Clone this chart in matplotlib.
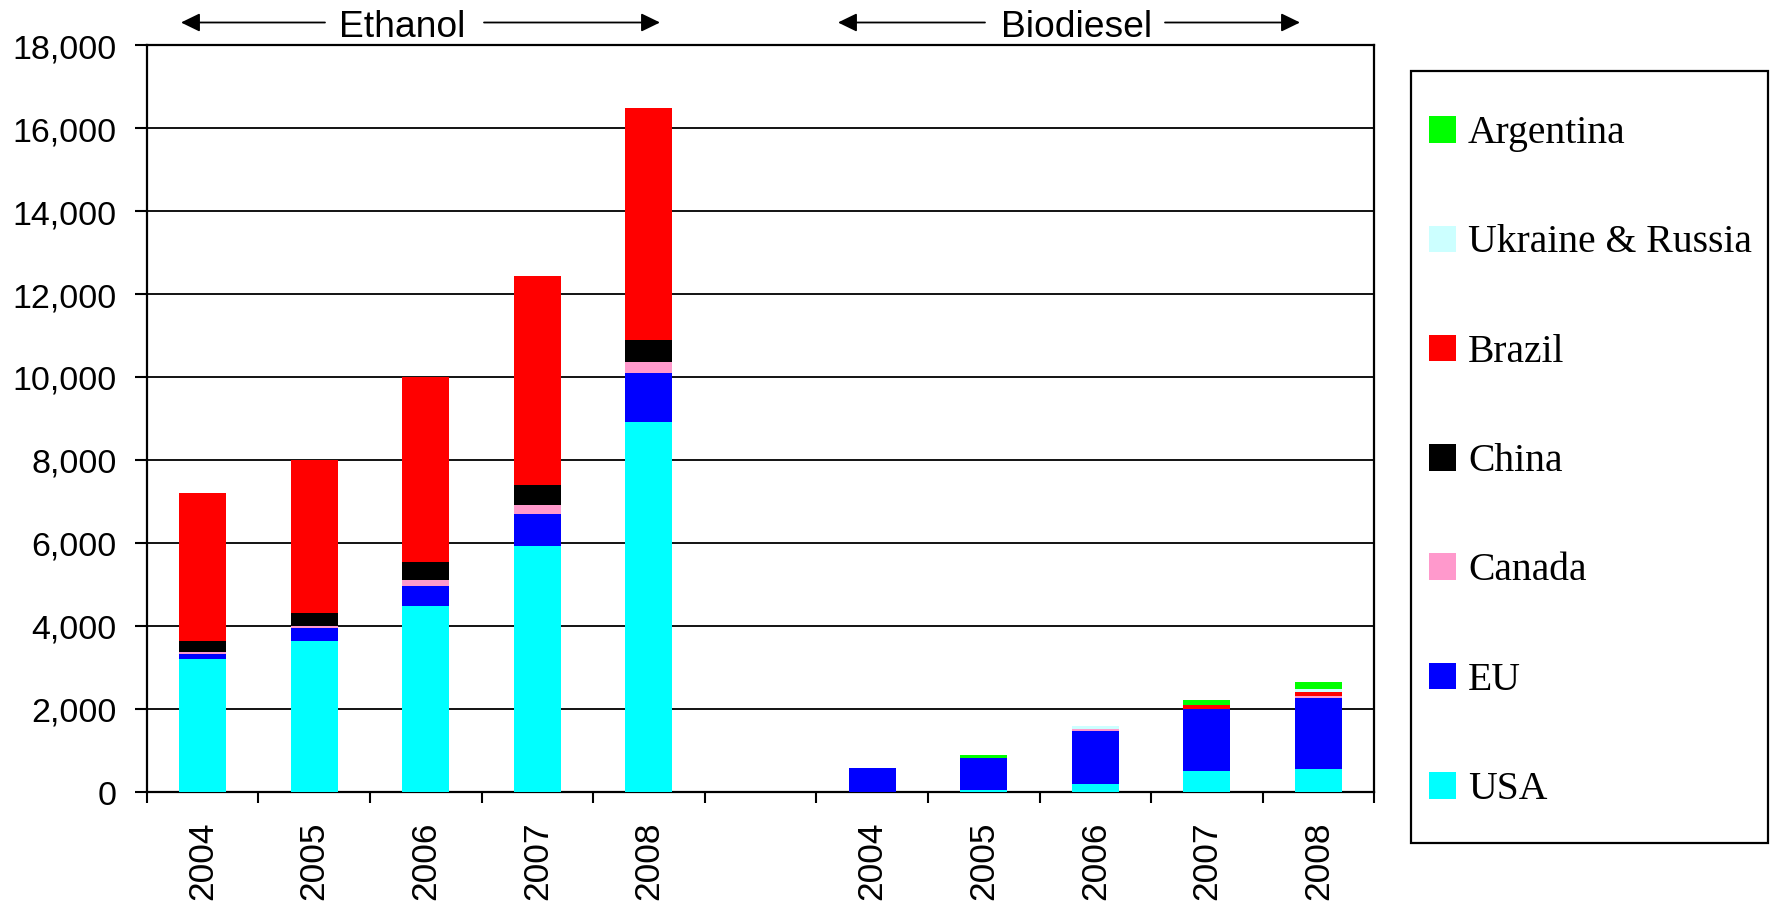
import matplotlib
matplotlib.use("Agg")
import matplotlib.pyplot as plt
from matplotlib.patches import Rectangle
from matplotlib.ticker import FuncFormatter, FixedLocator
import numpy as np

# Production by country (stacked bottom to top)
years = ["2004", "2005", "2006", "2007", "2008"]
countries = ["USA", "EU", "Canada", "China", "Brazil", "Ukraine & Russia", "Argentina"]
colors = ["#00FFFF", "#0000FF", "#FF99CC", "#000000", "#FF0000", "#CCFFFF", "#00FF00"]

ethanol_usa = [3200, 3640, 4480, 5930, 8920]
ethanol_eu = [120, 315, 480, 765, 1180]
ethanol_canada = [55, 50, 145, 225, 265]
ethanol_china = [260, 310, 435, 480, 530]
ethanol_brazil = [3570, 3680, 4460, 5040, 5580]
ethanol_ukraine_russia = [0, 0, 0, 0, 0]
ethanol_argentina = [0, 0, 0, 0, 0]

biodiesel_usa = [0, 40, 185, 500, 550]
biodiesel_eu = [570, 775, 1280, 1500, 1710]
biodiesel_canada = [0, 0, 50, 0, 50]
biodiesel_china = [0, 0, 0, 0, 0]
biodiesel_brazil = [0, 0, 0, 97, 97]
biodiesel_ukraine_russia = [0, 0, 65, 0, 72]
biodiesel_argentina = [0, 80, 0, 120, 170]

ethanol = [ethanol_usa, ethanol_eu, ethanol_canada, ethanol_china,
           ethanol_brazil, ethanol_ukraine_russia, ethanol_argentina]
biodiesel = [biodiesel_usa, biodiesel_eu, biodiesel_canada, biodiesel_china,
             biodiesel_brazil, biodiesel_ukraine_russia, biodiesel_argentina]

W, H = 1771, 903
fig = plt.figure(figsize=(W / 100, H / 100), dpi=100)
fig.patch.set_facecolor("white")

ax = fig.add_axes([146.7 / W, 1 - 792.7 / H, (1374.3 - 146.7) / W, (792.7 - 46.2) / H])

sans = "Liberation Sans"
serif = "Liberation Serif"

# slot positions: ethanol years, one empty gap, biodiesel years
eth_x = np.arange(5)
bio_x = np.arange(6, 11)
bar_w = 0.42

for xs, group in ((eth_x, ethanol), (bio_x, biodiesel)):
    bottom = np.zeros(5)
    for vals, col in zip(group, colors):
        v = np.array(vals, dtype=float)
        ax.bar(xs, v, width=bar_w, bottom=bottom, color=col, edgecolor="none", zorder=3)
        bottom += v

ax.set_xlim(-0.5, 10.5)
ax.set_ylim(0, 18000)
ax.set_yticks(np.arange(0, 18001, 2000))
ax.yaxis.set_major_formatter(FuncFormatter(lambda v, p: f"{int(v):,}"))
ax.yaxis.grid(True, color="black", linewidth=1.3, zorder=0)
ax.set_axisbelow(True)

# boundary ticks without labels, year labels centred in each slot
ax.xaxis.set_major_locator(FixedLocator(np.arange(-0.5, 10.6, 1.0)))
ax.xaxis.set_major_formatter(FuncFormatter(lambda v, p: ""))
label_pos = list(eth_x) + list(bio_x)
ax.xaxis.set_minor_locator(FixedLocator(label_pos))
ax.set_xticklabels(years + years, minor=True)
ax.tick_params(axis="x", which="major", direction="out", length=8, width=1.5, color="black")
ax.tick_params(axis="x", which="minor", length=0, pad=21, labelsize=25.5, labelrotation=90)
ax.tick_params(axis="y", direction="out", length=8.5, width=1.5, pad=13, labelsize=24.5)
for lab in ax.get_xticklabels(minor=True) + ax.get_yticklabels():
    lab.set_fontfamily(sans)

for s in ax.spines.values():
    s.set_linewidth(1.6)
    s.set_color("black")

# Group headers with double arrows
def header(text, x_text, head_left, tail_left, tail_right, head_right, y=23.5):
    yy = H - y
    fig.text(x_text / W, 1 - 36.7 / H, text, ha="center", va="baseline",
             fontsize=26.8, fontfamily=sans)
    style = "-|>,head_length=11.5,head_width=5.6"
    for a, b in ((tail_left, head_left), (tail_right, head_right)):
        ax.annotate("", xy=(b, yy), xytext=(a, yy), xycoords="figure pixels",
                    textcoords="figure pixels", annotation_clip=False,
                    arrowprops=dict(arrowstyle=style, color="black", lw=1.3,
                                    shrinkA=0, shrinkB=0, mutation_scale=1))

header("Ethanol", 402, 181, 325, 484, 660)
header("Biodiesel", 1077, 838, 985, 1165, 1300)

# Legend box (series listed top-down in reverse stacking order)
def fx(px):
    return px / W

def fy(py):
    return 1 - py / H

box = Rectangle((fx(1411), fy(844)), fx(1768) - fx(1411), fy(72.3) - fy(844),
                transform=fig.transFigure, facecolor="white", edgecolor="black",
                linewidth=1.6)
fig.add_artist(box)
for i, (name, col) in enumerate(zip(countries[::-1], colors[::-1])):
    cy = 130.5 + i * 109.3
    sq = Rectangle((fx(1429), fy(cy + 13.3)), fx(1456) - fx(1429), fy(cy - 13.3) - fy(cy + 13.3),
                   transform=fig.transFigure, facecolor=col, edgecolor="none")
    fig.add_artist(sq)
    fig.text(fx(1468), fy(cy + 12.5), name, ha="left", va="baseline",
             fontsize=28.5, fontfamily=serif)

fig.savefig("out.png", dpi=100, facecolor="white")
